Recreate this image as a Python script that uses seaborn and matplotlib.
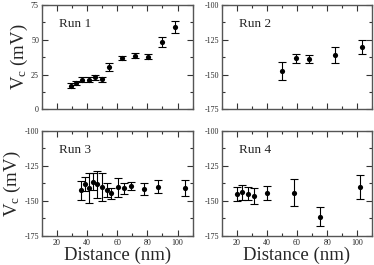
import numpy as np
import matplotlib
matplotlib.use("Agg")
import matplotlib.pyplot as plt
from matplotlib.ticker import MultipleLocator
import seaborn as sns
import pandas as pd

run1_x = [29.5, 32.5, 36.5, 41.0, 45.5, 50.0, 54.5, 63.0, 72.0, 80.5, 89.5, 98.0]
run1_y = [16.8, 19.1, 21.3, 21.3, 23.2, 21.6, 30.6, 36.7, 38.6, 37.9, 48.6, 59.2]
run1_e = [1.8, 1.5, 2.0, 1.8, 1.8, 1.8, 3.0, 1.5, 2.0, 2.0, 3.5, 4.0]

run2_x = [50.0, 59.0, 68.0, 85.0, 103.0]
run2_y = [-147.5, -138.4, -139.1, -136.2, -130.2]
run2_e = [6.6, 3.0, 2.9, 5.8, 5.2]

run3_x = [35.7, 38.6, 41.5, 43.8, 46.6, 49.8, 53.2, 56.0, 60.5, 64.8, 69.3, 78.0, 86.7, 104.6]
run3_y = [-142.5, -138.2, -141.0, -136.3, -138.0, -140.3, -142.3, -144.6, -140.3, -141.0, -139.4, -141.5, -139.9, -141.0]
run3_e = [6.6, 5.0, 10.8, 6.0, 9.7, 10.0, 5.0, 4.0, 6.6, 3.8, 3.0, 4.3, 4.7, 5.7]

run4_x = [20.3, 23.2, 27.4, 31.7, 40.4, 57.9, 75.5, 101.7]
run4_y = [-145.1, -143.9, -144.8, -146.5, -144.1, -144.1, -161.2, -139.9]
run4_e = [4.75, 5.6, 4.6, 5.9, 4.9, 9.7, 6.6, 8.7]

run_labels = ["Run 1", "Run 2", "Run 3", "Run 4"]
y_ranges = [(0, 75), (-175, -100), (-175, -100), (-175, -100)]

sns.set_style("ticks")
plt.rcParams['font.family'] = ['Liberation Serif', 'DejaVu Serif']
plt.rcParams['axes.unicode_minus'] = False
plt.rcParams['mathtext.fontset'] = 'custom'
plt.rcParams['mathtext.rm'] = 'Liberation Serif'
plt.rcParams['mathtext.it'] = 'Liberation Serif:italic'

fig = plt.figure(figsize=(3.74, 2.65), dpi=100)
boxes = [
    [0.1115, 0.5875, 0.4037, 0.3935],
    [0.5928, 0.5875, 0.4027, 0.3935],
    [0.1115, 0.1094, 0.4037, 0.3970],
    [0.5928, 0.1094, 0.4027, 0.3970],
]
data = [(run1_x, run1_y, run1_e), (run2_x, run2_y, run2_e),
        (run3_x, run3_y, run3_e), (run4_x, run4_y, run4_e)]

for i, (box, (xs, ys, es)) in enumerate(zip(boxes, data)):
    ax = fig.add_axes(box)
    df = pd.DataFrame({"x": xs, "y": ys})
    ax.errorbar(xs, ys, yerr=es, fmt='none', ecolor='black', elinewidth=0.8,
                capsize=2.6, capthick=0.8, zorder=2)
    sns.scatterplot(data=df, x="x", y="y", ax=ax, color='black', s=14,
                    edgecolor='black', linewidth=0, zorder=3, legend=False)
    ax.set_xlim(10, 110)
    ax.set_ylim(*y_ranges[i])
    ax.xaxis.set_major_locator(MultipleLocator(20))
    ax.xaxis.set_minor_locator(MultipleLocator(10))
    ax.yaxis.set_major_locator(MultipleLocator(25))
    ax.yaxis.set_minor_locator(MultipleLocator(12.5))
    ax.tick_params(which='both', direction='in', top=True, right=True,
                   labelsize=5.8, width=0.8, color='#333333', pad=2)
    ax.tick_params(which='major', length=4)
    ax.tick_params(which='minor', length=2.5)
    for sp in ax.spines.values():
        sp.set_linewidth(1.0)
        sp.set_color('#555555')
    ax.set_xlabel("")
    ax.set_ylabel("")
    if i < 2:
        ax.tick_params(labelbottom=False)
    else:
        ax.set_xlabel("Distance (nm)", fontsize=13.5, labelpad=0)
    if i % 2 == 0:
        ax.set_ylabel(r"V$_{\mathrm{c}}$ (mV)", fontsize=13.5, labelpad=1)
    ax.text(0.115, 0.82, run_labels[i], transform=ax.transAxes,
            fontsize=9.5, va='center', ha='left')

fig.savefig("out.png", dpi=100)
